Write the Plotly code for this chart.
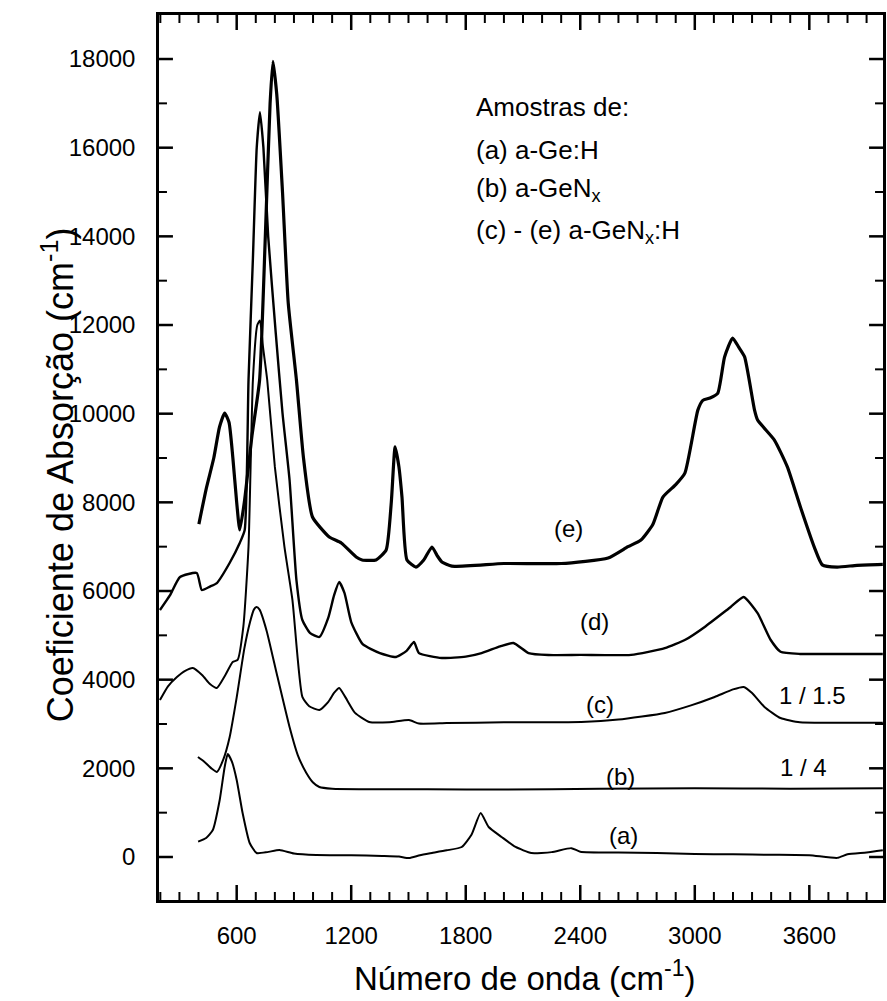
import plotly.graph_objects as go

# ---- data (wavenumber cm^-1, absorption coefficient cm^-1) ----
xa = [398, 440, 475, 511, 537, 553, 575, 600, 631, 668, 704, 760, 824, 900, 1017, 1200, 1362, 1450, 1503,
      1560, 1623, 1700, 1779, 1830, 1878, 1920, 1988, 2061, 2144, 2250, 2353, 2400, 2600, 2800, 3000, 3200,
      3400, 3600, 3746, 3800, 3900, 3985]
ya = [345, 430, 609, 1286, 2030, 2323, 2150, 1737, 992, 316, 90, 110, 158, 80, 45, 40, 23, 10, -23,
      40, 90, 150, 226, 500, 992, 677, 451, 226, 90, 110, 200, 120, 100, 90, 70, 60,
      50, 40, -20, 60, 100, 150]

xb = [397, 430, 470, 496, 530, 563, 600, 640, 670, 690, 704, 720, 757, 809, 877, 920, 965, 1000, 1033,
      1100, 1300, 1600, 2000, 2500, 3000, 3500, 3985]
yb = [2256, 2150, 1990, 1917, 2200, 2700, 3600, 4700, 5300, 5580, 5640, 5580, 5100, 4150, 2932, 2300, 1895,
      1680, 1579, 1540, 1530, 1530, 1520, 1540, 1550, 1540, 1550]

xc = [198, 240, 287, 330, 370, 420, 460, 496, 540, 579, 605, 635, 662, 685, 708, 722, 738, 760, 800, 850,
      892, 944, 980, 1033, 1080, 1110, 1137, 1170, 1220, 1294, 1400, 1503, 1555, 1700, 2000, 2405, 2600,
      2843, 2980, 3104, 3200, 3256, 3300, 3365, 3449, 3550, 3700, 3985]
yc = [3540, 3850, 4060, 4200, 4263, 4100, 3900, 3812, 4100, 4399, 4444, 5200, 7000, 10760, 12000, 12100,
      11500, 10760, 8800, 7000, 5800, 3610, 3400, 3316, 3500, 3700, 3812, 3600, 3250, 3045, 3040, 3090,
      3010, 3020, 3040, 3045, 3100, 3250, 3420, 3610, 3780, 3835, 3700, 3384, 3135, 3040, 3030, 3030]

xd = [198, 250, 303, 391, 417, 460, 496, 563, 616, 642, 662, 685, 705, 722, 740, 765, 805, 840, 877, 913,
      944, 985, 1033, 1080, 1110, 1137, 1165, 1200, 1260, 1350, 1435, 1490, 1529, 1555, 1675, 1800, 1883,
      1980, 2050, 2129, 2233, 2400, 2666, 2843, 2950, 3052, 3188, 3256, 3329, 3397, 3449, 3550, 3700, 3985]
yd = [5571, 5900, 6316, 6406, 6023, 6100, 6180, 6632, 7083, 7376, 10760, 13500, 16000, 16800, 16000, 14000,
      11800, 10015, 8504, 6248, 5346, 5050, 4963, 5400, 5900, 6203, 5950, 5300, 4800, 4600, 4511, 4650,
      4850, 4600, 4489, 4520, 4600, 4750, 4827, 4600, 4556, 4560, 4560, 4710, 4900, 5190, 5640, 5865,
      5500, 4900, 4630, 4580, 4580, 4580]

xe = [402, 440, 480, 510, 537, 560, 580, 600, 616, 640, 680, 720, 750, 775, 790, 810, 840, 870, 913, 950,
      997, 1085, 1148, 1226, 1257, 1330, 1383, 1410, 1430, 1450, 1466, 1492, 1539, 1580, 1623, 1650, 1675,
      1727, 2000, 2300, 2546, 2650, 2718, 2780, 2833, 2900, 2948, 3016, 3042, 3080, 3120, 3156, 3198,
      3230, 3261, 3313, 3329, 3417, 3485, 3553, 3626, 3668, 3746, 3850, 3985]
ye = [7510, 8300, 9000, 9700, 10015, 9800, 9000, 8000, 7376, 8000, 9500, 10760, 14000, 17000, 17950, 17200,
      15000, 12500, 10760, 9000, 7670, 7218, 7083, 6767, 6700, 6700, 6925, 8000, 9250, 8800, 8120, 6700,
      6540, 6700, 6993, 6800, 6655, 6560, 6620, 6620, 6745, 7000, 7150, 7500, 8120, 8400, 8660, 10080,
      10300, 10354, 10460, 11280, 11707, 11500, 11280, 10080, 9857, 9406, 8800, 7900, 6990, 6590, 6540,
      6580, 6600]

x_ticks = [600, 1200, 1800, 2400, 3000, 3600]
y_ticks = [0, 2000, 4000, 6000, 8000, 10000, 12000, 14000, 16000, 18000]
x_minor = [v for v in range(200, 4000, 100) if v not in x_ticks]
y_minor = [v for v in range(0, 19000, 1000) if v not in y_ticks]

curve_labels = ["(a)", "(b)", "(c)", "(d)", "(e)"]
legend_lines = ["Amostras de:", "(a) a-Ge:H", "(b) a-GeN<sub>x</sub>", "(c) - (e) a-GeN<sub>x</sub>:H"]
scale_labels = ["1 / 1.5", "1 / 4"]

FONT = "Liberation Sans, Arial, sans-serif"
X_RANGE = [193, 3986]
Y_RANGE = [-970, 18993]
PLOT_W, PLOT_H = 727, 885  # plot-area size in px (887-159-1, 1001-15-101)
ux = (X_RANGE[1] - X_RANGE[0]) / PLOT_W   # data units per px along x
uy = (Y_RANGE[1] - Y_RANGE[0]) / PLOT_H   # data units per px along y

fig = go.Figure()
series = [(xa, ya, 2.0), (xb, yb, 2.0), (xc, yc, 2.0), (xd, yd, 2.4), (xe, ye, 3.2)]
for xs, ys, w in series:
    fig.add_trace(go.Scatter(x=xs, y=ys, mode="lines",
                             line=dict(color="black", width=w, shape="spline", smoothing=0.5),
                             hoverinfo="skip", showlegend=False))


# inside tick marks on all four sides, drawn as line segments from the tick value lists
def tick_trace(vals, length_px, width, horizontal_axis):
    tx, ty = [], []
    for v in vals:
        if horizontal_axis:
            ln = length_px * uy
            tx += [v, v, None, v, v, None]
            ty += [Y_RANGE[0], Y_RANGE[0] + ln, None, Y_RANGE[1], Y_RANGE[1] - ln, None]
        else:
            ln = length_px * ux
            ty += [v, v, None, v, v, None]
            tx += [X_RANGE[0], X_RANGE[0] + ln, None, X_RANGE[1], X_RANGE[1] - ln, None]
    return go.Scatter(x=tx, y=ty, mode="lines", line=dict(color="black", width=width),
                      hoverinfo="skip", showlegend=False, connectgaps=False)


fig.add_trace(tick_trace(x_ticks, 15, 2.5, True))
fig.add_trace(tick_trace(x_minor, 8, 2, True))
fig.add_trace(tick_trace(y_ticks, 14, 2.5, False))
fig.add_trace(tick_trace(y_minor, 8, 2, False))

fig.update_layout(
    xaxis=dict(range=X_RANGE, tickmode="array", tickvals=x_ticks, ticktext=[str(v) for v in x_ticks],
               ticks="", showgrid=False, zeroline=False, showline=True, linecolor="black", linewidth=2.5,
               mirror=True, tickfont=dict(family=FONT, size=24, color="black"), ticklabelstandoff=12),
    yaxis=dict(range=Y_RANGE, tickmode="array", tickvals=y_ticks, ticktext=[str(v) for v in y_ticks],
               ticks="", showgrid=False, zeroline=False, showline=True, linecolor="black", linewidth=2.5,
               mirror=True, tickfont=dict(family=FONT, size=24, color="black"), ticklabelstandoff=16),
)

ann = []
lab_pos = [(2624, 496), (2609, 1827), (2504, 3451), (2473, 5323), (2337, 7421)]
for t, (x, y) in zip(curve_labels, lab_pos):
    ann.append(dict(x=x, y=y, text=t, showarrow=False, font=dict(family=FONT, size=24, color="black")))
for t, (x, y) in zip(scale_labels, [(3616, 3632), (3569, 2030)]):
    ann.append(dict(x=x, y=y, text=t, showarrow=False, font=dict(family=FONT, size=24, color="black")))
leg_y = [16918, 15948, 15050, 14100]
for t, y in zip(legend_lines, leg_y):
    ann.append(dict(x=1842, y=y, text=t, showarrow=False, xanchor="left", yanchor="middle",
                    font=dict(family=FONT, size=26, color="black")))
ann.append(dict(xref="paper", yref="paper", x=0.505, y=-0.112, yanchor="bottom",
                text="Número de onda (cm<sup>-1</sup>)",
                showarrow=False, font=dict(family=FONT, size=33, color="black")))
ann.append(dict(xref="paper", yref="paper", x=-0.174, y=0.48, text="Coeficiente de Absorção (cm<sup>-1</sup>)",
                textangle=-90, showarrow=False, font=dict(family=FONT, size=36, color="black")))

fig.update_layout(width=887, height=1001, margin=dict(l=159, r=1, t=15, b=101),
                  paper_bgcolor="white", plot_bgcolor="white", annotations=ann)

fig.write_html("out.html")
